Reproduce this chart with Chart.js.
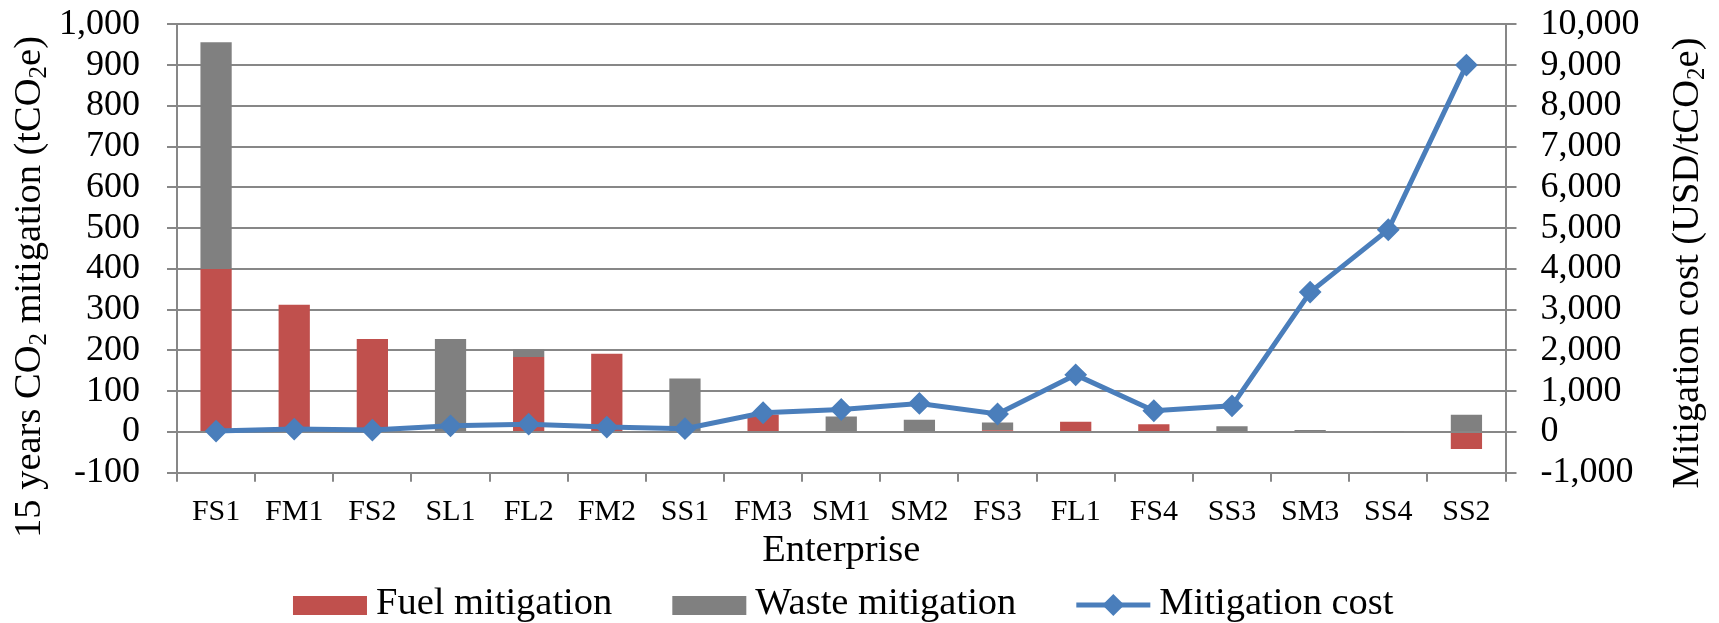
<!DOCTYPE html>
<html>
<head>
<meta charset="utf-8">
<script src="https://cdn.jsdelivr.net/npm/chart.js@4.4.1/dist/chart.umd.min.js"></script>
<style>
  html, body { margin: 0; padding: 0; background: #ffffff; }
  #wrap { position: relative; width: 1719px; height: 623px; }
</style>
</head>
<body>
<div id="wrap"><canvas id="chart"></canvas></div>
<script>
// Enterprises, ordered by mitigation cost
const enterprises = ['FS1', 'FM1', 'FS2', 'SL1', 'FL2', 'FM2', 'SS1', 'FM3', 'SM1',
                     'SM2', 'FS3', 'FL1', 'FS4', 'SS3', 'SM3', 'SS4', 'SS2'];

// 15-year CO2 mitigation (tCO2e)
const fuelMitigation  = [400, 312, 228, 0, 184, 192, 0, 43, 0, 0, 4, 25, 19, 0, 0, 0, -42];
const wasteMitigation = [556, 0, 0, 228, 18, 0, 131, 0, 38, 30, 19, 0, 0, 14, 5, 1, 42];

// Mitigation cost (USD/tCO2e)
const mitigationCost  = [20, 70, 45, 150, 190, 120, 80, 470, 550, 700, 440, 1400, 520, 640, 3430, 4960, 9000];

// Axis ranges: [min, max, step]
const mitigationAxis = [-100, 1000, 100];
const costAxis       = [-1000, 10000, 1000];

const seriesNames = ['Fuel mitigation', 'Waste mitigation', 'Mitigation cost'];
const leftTitle  = [['15 years CO'], ['2', 'sub'], [' mitigation (tCO'], ['2', 'sub'], ['e)']];
const rightTitle = [['Mitigation cost (USD/tCO'], ['2', 'sub'], ['e)']];
const xTitle = 'Enterprise';

const SERIF = "'Liberation Serif', 'Times New Roman', serif";
const RED = '#C0504D', GREY = '#808080', BLUE = '#4A7EBB', AXIS = '#878787';

const fmt = v => Number(v).toLocaleString('en-US');

// Text runs with subscripts, laid out along the baseline (optionally rotated)
function drawRuns(ctx, runs, size, cx, cy, rotate) {
  ctx.save();
  ctx.translate(cx, cy);
  if (rotate) ctx.rotate(-Math.PI / 2);
  ctx.fillStyle = '#000';
  ctx.textBaseline = 'alphabetic';
  ctx.textAlign = 'left';
  const parts = runs.map(([t, kind]) => {
    const s = kind === 'sub' ? size * 0.65 : size;
    ctx.font = s + 'px ' + SERIF;
    return { t, s, dy: kind === 'sub' ? size * 0.16 : 0, w: ctx.measureText(t).width };
  });
  let x = -parts.reduce((a, p) => a + p.w, 0) / 2;
  for (const p of parts) {
    ctx.font = p.s + 'px ' + SERIF;
    ctx.fillText(p.t, x, p.dy);
    x += p.w;
  }
  ctx.restore();
}

function diamond(ctx, x, y, r) {
  ctx.beginPath();
  ctx.moveTo(x - r, y); ctx.lineTo(x, y - r); ctx.lineTo(x + r, y); ctx.lineTo(x, y + r);
  ctx.closePath();
  ctx.fill();
}

const titlesAndLegend = {
  id: 'titlesAndLegend',
  afterDraw(chart) {
    const ctx = chart.ctx;
    const area = chart.chartArea;
    // rotated value-axis titles
    drawRuns(ctx, leftTitle, 38.5, 40, 287, true);
    drawRuns(ctx, rightTitle, 38.5, 1698, 263, true);

    // legend row
    const size = 38.5, boxW = 74, boxH = 19, gapText = 9, gapItem = 60, cy = 604;
    ctx.save();
    ctx.font = size + 'px ' + SERIF;
    const ds = chart.data.datasets;
    const widths = ds.map(d => boxW + gapText + ctx.measureText(d.label).width);
    const total = widths.reduce((a, b) => a + b, 0) + gapItem * (ds.length - 1);
    let x = (area.left + area.right) / 2 + 2 - total / 2;
    ds.forEach((d, i) => {
      if (d.type === 'line') {
        ctx.strokeStyle = d.borderColor;
        ctx.lineWidth = d.borderWidth;
        ctx.beginPath();
        ctx.moveTo(x, cy + 1); ctx.lineTo(x + boxW, cy + 1);
        ctx.stroke();
        ctx.fillStyle = d.pointBackgroundColor;
        diamond(ctx, x + boxW / 2, cy + 1, d.pointRadius + 1);
      } else {
        ctx.fillStyle = d.backgroundColor;
        ctx.fillRect(x, cy + 1.5 - boxH / 2, boxW, boxH);
      }
      ctx.fillStyle = '#000';
      ctx.textBaseline = 'middle';
      ctx.textAlign = 'left';
      ctx.fillText(d.label, x + boxW + gapText, cy);
      x += widths[i] + gapItem;
    });
    ctx.restore();
  }
};

new Chart(document.getElementById('chart'), {
  data: {
    labels: enterprises,
    datasets: [
      { type: 'bar', label: seriesNames[0], data: fuelMitigation, backgroundColor: RED,
        yAxisID: 'y', stack: 'mitigation', order: 2,
        categoryPercentage: 1, barPercentage: 0.4 },
      { type: 'bar', label: seriesNames[1], data: wasteMitigation, backgroundColor: GREY,
        yAxisID: 'y', stack: 'mitigation', order: 2,
        categoryPercentage: 1, barPercentage: 0.4 },
      { type: 'line', label: seriesNames[2], data: mitigationCost, yAxisID: 'y1', order: 0,
        borderColor: BLUE, backgroundColor: BLUE, borderWidth: 5, tension: 0,
        pointStyle: 'rectRot', pointRadius: 10, pointBorderWidth: 2,
        pointBackgroundColor: BLUE, pointBorderColor: BLUE }
    ]
  },
  options: {
    responsive: true,
    maintainAspectRatio: false,
    devicePixelRatio: 1,
    animation: false,
    layout: { padding: { top: 24.3, left: 0, right: 0, bottom: 0 } },
    plugins: {
      legend: { display: false },
      tooltip: { enabled: false }
    },
    scales: {
      x: {
        stacked: true,
        offset: true,
        afterFit: s => { s.height = 623 - 472.7; s.paddingLeft = 0; s.paddingRight = 0; },
        grid: { display: true, drawOnChartArea: false, drawTicks: true, tickLength: 9,
                offset: true, color: AXIS, lineWidth: 2 },
        border: { display: true, color: AXIS, width: 2 },
        ticks: { color: '#000', font: { family: SERIF, size: 30 }, padding: 12, maxRotation: 0, autoSkip: false },
        title: { display: true, text: xTitle, color: '#000', font: { family: SERIF, size: 38.5 },
                 padding: { top: 0, bottom: 49.5 } }
      },
      y: {
        position: 'left',
        stacked: true,
        min: mitigationAxis[0], max: mitigationAxis[1],
        afterFit: s => { s.width = 177; s.paddingTop = 0; s.paddingBottom = 0; },
        grid: { color: AXIS, lineWidth: 2, tickLength: 10 },
        border: { display: true, color: AXIS, width: 2 },
        ticks: { stepSize: mitigationAxis[2], autoSkip: false, color: '#000',
                 font: { family: SERIF, size: 36 }, padding: 27, callback: fmt }
      },
      y1: {
        position: 'right',
        min: costAxis[0], max: costAxis[1],
        afterFit: s => { s.width = 1719 - 1505.5; s.paddingTop = 0; s.paddingBottom = 0; },
        grid: { drawOnChartArea: false, color: AXIS, lineWidth: 2, tickLength: 11 },
        border: { display: true, color: AXIS, width: 2 },
        ticks: { stepSize: costAxis[2], autoSkip: false, color: '#000',
                 font: { family: SERIF, size: 36 }, padding: 24, callback: fmt }
      }
    }
  },
  plugins: [titlesAndLegend]
});
</script>
</body>
</html>
